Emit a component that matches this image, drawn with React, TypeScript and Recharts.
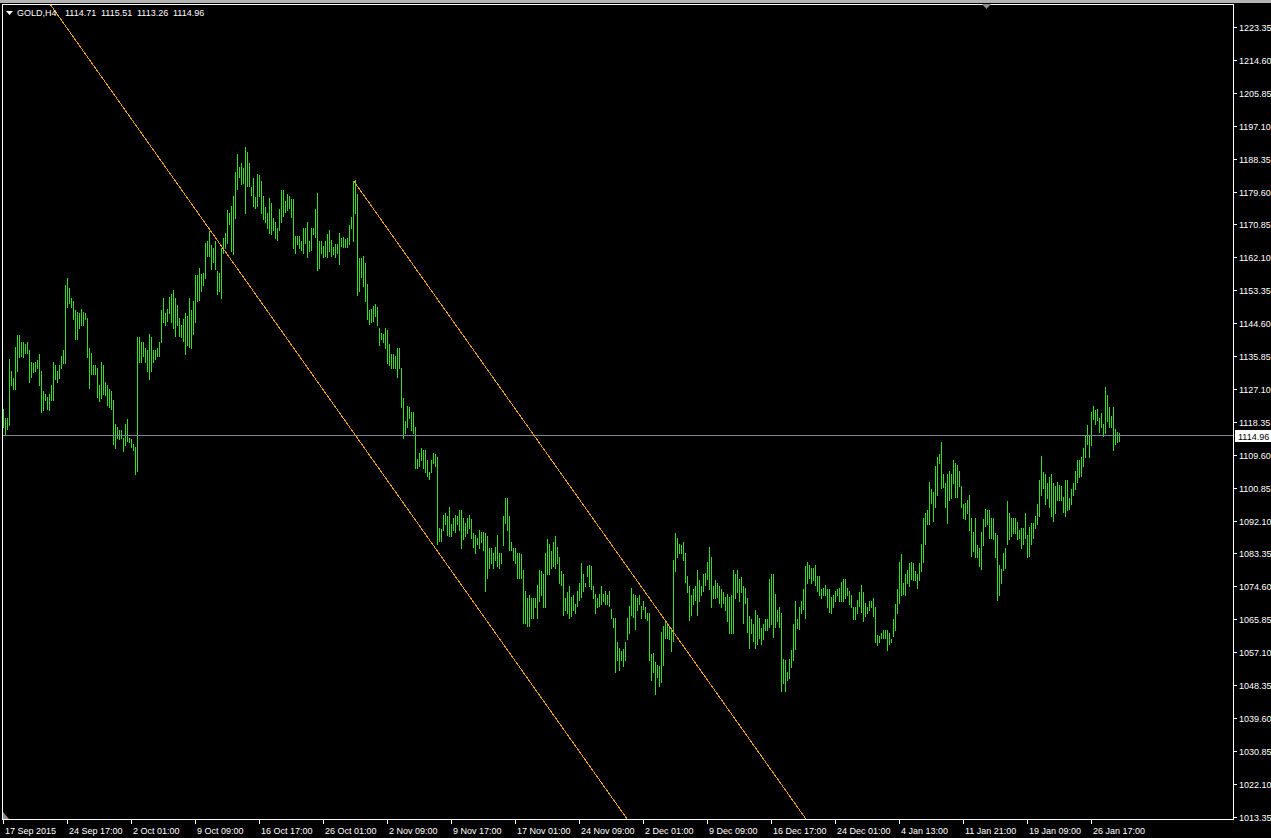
import { Bar, ComposedChart, ReferenceLine, XAxis, YAxis } from "recharts";

// GOLD H4 bars, one entry per bar, left to right
const highs = [
	1121.8, 1119.4, 1119.4, 1135.3, 1132.1, 1130.0, 1138.5, 1141.5, 1141.7, 1139.6,
	1139.8, 1139.3, 1139.8, 1137.7, 1134.3, 1134.0, 1134.5, 1134.8, 1136.4, 1132.1,
	1126.8, 1126.0, 1125.2, 1126.0, 1128.2, 1134.3, 1133.5, 1132.1, 1133.5, 1136.1,
	1137.5, 1155.0, 1156.6, 1154.2, 1151.3, 1150.7, 1148.1, 1147.8, 1147.5, 1148.6,
	1147.8, 1147.3, 1146.2, 1138.0, 1136.7, 1133.7, 1133.7, 1132.9, 1128.4, 1134.5,
	1133.5, 1129.0, 1128.2, 1127.3, 1126.8, 1124.2, 1117.8, 1117.0, 1116.2, 1116.2,
	1114.3, 1117.8, 1119.1, 1114.3, 1113.8, 1112.7, 1111.9, 1141.1, 1141.1, 1139.6,
	1139.6, 1138.2, 1137.5, 1141.9, 1141.1, 1137.7, 1137.5, 1138.0, 1139.8, 1148.3,
	1151.3, 1147.5, 1148.6, 1151.8, 1152.6, 1153.6, 1151.5, 1149.6, 1146.2, 1144.3,
	1145.9, 1147.3, 1146.5, 1151.3, 1148.1, 1150.5, 1157.6, 1157.6, 1159.5, 1157.9,
	1158.1, 1166.1, 1166.7, 1169.1, 1165.6, 1164.8, 1166.7, 1158.7, 1158.1, 1164.8,
	1167.5, 1168.8, 1174.7, 1174.1, 1176.0, 1178.6, 1184.8, 1189.8, 1186.3, 1187.2,
	1186.1, 1191.7, 1190.3, 1187.2, 1180.8, 1183.2, 1178.4, 1184.5, 1184.0, 1182.6,
	1178.6, 1175.7, 1173.9, 1178.1, 1176.8, 1172.8, 1171.5, 1170.1, 1175.2, 1180.2,
	1180.2, 1177.3, 1179.2, 1178.6, 1177.8, 1177.8, 1168.0, 1168.0, 1168.0, 1166.7,
	1169.9, 1169.9, 1171.5, 1166.7, 1169.9, 1170.1, 1175.2, 1179.4, 1166.7, 1166.7,
	1165.3, 1166.7, 1168.3, 1169.6, 1166.9, 1165.1, 1165.9, 1165.9, 1168.8, 1167.5,
	1167.7, 1167.2, 1167.5, 1170.9, 1173.0, 1182.6, 1182.9, 1179.2, 1162.1, 1162.1,
	1162.7, 1160.8, 1155.2, 1148.1, 1148.6, 1149.4, 1149.9, 1149.1, 1143.5, 1142.2,
	1141.9, 1143.3, 1143.0, 1139.3, 1136.4, 1136.4, 1136.1, 1138.2, 1138.2, 1132.9,
	1124.7, 1118.6, 1122.8, 1122.5, 1121.0, 1121.0, 1117.2, 1108.7, 1110.3, 1111.4,
	1110.9, 1110.9, 1108.4, 1105.2, 1108.4, 1110.3, 1110.0, 1109.2, 1090.3, 1090.0,
	1093.8, 1094.3, 1093.3, 1095.7, 1091.2, 1093.0, 1093.8, 1093.5, 1094.9, 1094.9,
	1093.0, 1091.7, 1093.0, 1093.8, 1092.7, 1088.8, 1088.5, 1087.7, 1089.6, 1089.3,
	1089.3, 1088.8, 1088.0, 1085.0, 1085.0, 1083.5, 1085.3, 1088.5, 1083.7, 1083.7,
	1093.5, 1098.1, 1098.1, 1093.5, 1086.6, 1085.0, 1085.0, 1083.7, 1083.5, 1083.2,
	1079.2, 1073.6, 1071.7, 1072.5, 1071.7, 1071.7, 1071.7, 1075.2, 1079.0, 1078.7,
	1077.9, 1083.5, 1087.4, 1086.1, 1084.0, 1086.4, 1088.0, 1085.3, 1082.4, 1078.7,
	1077.9, 1071.7, 1073.1, 1074.9, 1072.0, 1072.5, 1070.1, 1073.6, 1075.7, 1080.8,
	1077.9, 1075.5, 1080.2, 1080.5, 1080.2, 1074.9, 1072.8, 1071.5, 1072.8, 1074.7,
	1072.8, 1073.6, 1072.3, 1073.6, 1068.8, 1066.4, 1066.4, 1060.0, 1058.4, 1057.6,
	1058.1, 1060.0, 1066.4, 1069.6, 1074.4, 1072.8, 1072.5, 1071.7, 1072.3, 1069.6,
	1070.9, 1069.1, 1067.7, 1067.5, 1056.8, 1057.1, 1054.7, 1053.9, 1053.6, 1062.7,
	1064.3, 1065.3, 1064.8, 1064.0, 1063.7, 1081.6, 1088.8, 1087.7, 1086.1, 1085.8,
	1086.6, 1083.5, 1077.6, 1074.9, 1072.3, 1074.1, 1074.7, 1079.0, 1076.5, 1074.7,
	1078.1, 1078.4, 1081.3, 1085.3, 1082.4, 1074.9, 1076.3, 1075.7, 1074.9, 1074.1,
	1073.1, 1072.0, 1072.8, 1072.0, 1072.3, 1079.0, 1077.9, 1079.0, 1076.8, 1077.3,
	1074.7, 1074.4, 1071.7, 1066.9, 1066.1, 1064.8, 1068.5, 1067.2, 1066.4, 1063.7,
	1064.8, 1066.1, 1066.1, 1076.8, 1078.1, 1078.1, 1072.8, 1068.5, 1069.1, 1067.7,
	1055.5, 1055.2, 1052.0, 1055.5, 1057.9, 1064.8, 1070.9, 1066.1, 1069.3, 1070.7,
	1073.9, 1080.0, 1081.3, 1080.5, 1079.7, 1079.7, 1080.5, 1077.6, 1077.6, 1074.1,
	1074.4, 1075.2, 1074.1, 1074.1, 1072.0, 1072.5, 1073.6, 1074.1, 1074.4, 1076.0,
	1076.8, 1076.8, 1074.4, 1073.6, 1072.3, 1069.3, 1069.1, 1071.2, 1073.3, 1075.2,
	1073.1, 1070.4, 1069.3, 1070.9, 1070.7, 1071.7, 1069.3, 1061.9, 1061.4, 1062.4,
	1063.2, 1063.2, 1063.0, 1062.4, 1060.8, 1066.1, 1069.9, 1073.9, 1081.3, 1083.2,
	1075.5, 1077.9, 1079.0, 1081.0, 1081.3, 1081.0, 1078.7, 1078.1, 1080.8, 1086.1,
	1093.0, 1094.3, 1094.9, 1102.6, 1100.7, 1099.7, 1106.6, 1109.0, 1110.0, 1113.0,
	1104.5, 1102.1, 1104.5, 1105.5, 1104.7, 1108.4, 1107.6, 1107.1, 1105.5, 1101.5,
	1096.7, 1097.0, 1097.8, 1099.1, 1093.0, 1089.3, 1093.0, 1085.6, 1085.0, 1089.3,
	1092.7, 1095.4, 1095.1, 1094.9, 1093.0, 1093.0, 1088.8, 1088.5, 1080.5, 1079.4,
	1083.5, 1085.0, 1097.3, 1094.3, 1093.0, 1093.0, 1093.0, 1091.9, 1089.8, 1090.3,
	1090.3, 1094.3, 1088.5, 1090.6, 1091.7, 1091.7, 1093.5, 1096.7, 1102.9, 1109.5,
	1105.0, 1104.5, 1102.1, 1103.7, 1104.5, 1102.1, 1101.3, 1102.6, 1101.8, 1101.3,
	1098.6, 1102.9, 1102.9, 1098.1, 1100.7, 1102.1, 1105.5, 1108.2, 1108.4, 1109.0,
	1111.4, 1115.1, 1117.5, 1115.1, 1121.2, 1122.8, 1121.5, 1122.0, 1119.6, 1120.7,
	1118.0, 1127.8, 1125.7, 1122.5, 1119.9, 1122.3, 1116.7, 1115.9, 1115.51,
];

const lows = [
	1117.0, 1115.1, 1116.7, 1117.6, 1128.2, 1127.3, 1127.1, 1132.1, 1135.6, 1135.9,
	1135.6, 1136.7, 1136.7, 1129.2, 1130.3, 1131.6, 1132.1, 1132.7, 1128.2, 1121.0,
	1121.5, 1124.2, 1122.0, 1121.5, 1124.4, 1124.4, 1129.8, 1129.2, 1130.0, 1132.7,
	1134.0, 1134.0, 1148.9, 1150.2, 1148.9, 1145.9, 1140.4, 1140.4, 1143.5, 1144.3,
	1144.1, 1145.9, 1135.6, 1127.6, 1131.1, 1131.1, 1131.1, 1125.2, 1123.9, 1124.7,
	1126.0, 1125.5, 1122.9, 1122.3, 1121.8, 1112.7, 1111.4, 1114.1, 1113.8, 1114.1,
	1110.6, 1112.2, 1113.5, 1113.0, 1111.7, 1110.9, 1104.7, 1105.5, 1134.5, 1134.3,
	1136.1, 1134.3, 1131.9, 1129.8, 1132.1, 1134.5, 1135.3, 1135.9, 1135.9, 1139.8,
	1144.9, 1144.3, 1145.4, 1147.5, 1145.1, 1143.5, 1141.4, 1144.1, 1141.4, 1141.1,
	1140.1, 1136.4, 1138.8, 1138.5, 1138.2, 1141.9, 1145.1, 1150.5, 1151.0, 1153.4,
	1155.0, 1156.6, 1162.7, 1162.7, 1159.2, 1161.1, 1159.2, 1152.6, 1153.4, 1151.5,
	1163.5, 1164.8, 1166.1, 1171.2, 1164.0, 1163.2, 1172.8, 1180.5, 1183.7, 1181.6,
	1182.1, 1173.9, 1181.3, 1181.3, 1178.9, 1176.0, 1175.4, 1176.0, 1178.6, 1173.9,
	1172.5, 1171.5, 1169.9, 1168.8, 1168.3, 1169.4, 1167.5, 1166.9, 1169.4, 1171.5,
	1173.3, 1174.4, 1174.9, 1175.4, 1173.0, 1164.8, 1163.5, 1165.9, 1164.8, 1164.3,
	1163.5, 1166.1, 1162.2, 1164.0, 1164.3, 1168.5, 1167.7, 1158.9, 1159.5, 1163.5,
	1162.2, 1162.7, 1162.2, 1164.0, 1162.7, 1163.2, 1162.2, 1163.5, 1160.5, 1165.3,
	1165.1, 1165.1, 1165.1, 1165.9, 1169.9, 1166.7, 1174.1, 1152.1, 1153.4, 1156.9,
	1154.7, 1150.5, 1145.9, 1144.6, 1145.1, 1145.4, 1146.5, 1144.1, 1138.8, 1140.4,
	1139.6, 1138.2, 1134.0, 1133.5, 1132.9, 1132.7, 1132.7, 1130.3, 1132.7, 1122.3,
	1114.3, 1115.4, 1117.0, 1119.6, 1116.2, 1115.4, 1106.3, 1106.3, 1106.8, 1108.4,
	1106.3, 1105.2, 1104.2, 1103.4, 1105.0, 1107.4, 1106.8, 1086.1, 1086.9, 1086.9,
	1089.6, 1091.2, 1088.5, 1088.2, 1088.0, 1089.8, 1089.3, 1091.4, 1089.6, 1085.0,
	1087.2, 1088.0, 1088.8, 1090.3, 1087.7, 1085.3, 1083.7, 1086.1, 1085.0, 1086.4,
	1084.3, 1073.6, 1077.0, 1079.7, 1081.0, 1079.7, 1081.6, 1080.2, 1079.7, 1080.8,
	1085.6, 1091.7, 1089.6, 1084.5, 1084.3, 1081.6, 1080.8, 1077.0, 1077.0, 1077.0,
	1065.1, 1065.1, 1064.3, 1064.3, 1066.4, 1066.4, 1069.1, 1066.4, 1070.7, 1072.3,
	1069.1, 1069.1, 1077.9, 1078.1, 1079.7, 1080.0, 1079.7, 1080.8, 1075.5, 1075.2,
	1067.2, 1068.3, 1067.5, 1066.4, 1066.9, 1068.3, 1067.5, 1069.6, 1071.0, 1072.0,
	1073.6, 1074.7, 1077.6, 1074.9, 1074.1, 1071.7, 1067.5, 1069.3, 1069.6, 1070.1,
	1070.7, 1070.1, 1070.1, 1069.6, 1066.4, 1063.8, 1052.0, 1055.2, 1052.6, 1055.2,
	1053.6, 1055.2, 1060.6, 1062.4, 1067.2, 1066.7, 1063.5, 1068.3, 1070.1, 1066.4,
	1068.8, 1066.4, 1065.9, 1055.2, 1049.9, 1052.0, 1046.2, 1050.7, 1048.3, 1049.4,
	1053.9, 1061.1, 1061.1, 1060.8, 1057.6, 1060.3, 1078.7, 1082.4, 1083.5, 1083.7,
	1081.8, 1076.0, 1073.3, 1065.9, 1067.2, 1070.1, 1071.2, 1067.2, 1070.9, 1072.5,
	1073.6, 1075.2, 1076.8, 1074.1, 1069.1, 1071.7, 1071.7, 1072.0, 1070.4, 1069.1,
	1070.4, 1068.3, 1065.6, 1062.2, 1062.2, 1062.2, 1071.7, 1073.3, 1070.7, 1073.1,
	1065.1, 1070.4, 1062.7, 1058.4, 1062.4, 1060.3, 1058.4, 1059.5, 1061.1, 1059.5,
	1060.6, 1063.0, 1063.2, 1064.0, 1064.8, 1061.3, 1064.0, 1065.6, 1064.0, 1047.0,
	1049.1, 1047.0, 1049.9, 1050.4, 1053.4, 1055.0, 1058.1, 1063.7, 1063.5, 1067.7,
	1068.8, 1066.4, 1075.7, 1077.0, 1075.7, 1076.5, 1075.2, 1073.6, 1072.3, 1071.5,
	1072.3, 1072.5, 1069.3, 1068.0, 1067.7, 1069.3, 1070.9, 1072.5, 1070.7, 1070.7,
	1070.9, 1071.7, 1072.5, 1070.1, 1069.3, 1066.1, 1066.1, 1067.5, 1069.6, 1068.0,
	1065.6, 1066.9, 1067.7, 1068.3, 1069.1, 1066.9, 1059.8, 1059.0, 1059.8, 1061.1,
	1061.1, 1061.1, 1057.9, 1059.5, 1060.0, 1061.6, 1063.0, 1067.7, 1070.4, 1072.3,
	1072.8, 1072.5, 1075.7, 1074.9, 1076.8, 1076.3, 1076.3, 1074.4, 1076.3, 1078.7,
	1081.3, 1086.1, 1091.2, 1091.2, 1097.0, 1092.0, 1095.7, 1098.9, 1107.6, 1101.0,
	1101.2, 1095.7, 1091.7, 1097.8, 1098.1, 1102.1, 1098.6, 1098.6, 1101.5, 1095.7,
	1093.0, 1092.7, 1094.1, 1089.6, 1082.9, 1084.0, 1082.4, 1082.6, 1080.2, 1079.4,
	1085.6, 1090.9, 1091.4, 1087.7, 1087.7, 1087.4, 1082.4, 1071.0, 1072.3, 1075.7,
	1079.0, 1079.7, 1086.1, 1087.4, 1088.2, 1088.8, 1088.8, 1087.4, 1087.7, 1085.0,
	1086.1, 1087.7, 1082.4, 1082.9, 1086.1, 1087.7, 1090.3, 1091.4, 1093.5, 1099.1,
	1101.0, 1096.7, 1098.3, 1095.7, 1093.3, 1092.0, 1094.3, 1097.6, 1097.8, 1097.8,
	1094.6, 1093.5, 1094.9, 1095.4, 1096.5, 1099.1, 1100.7, 1102.6, 1103.7, 1104.2,
	1106.8, 1109.2, 1112.7, 1109.2, 1112.4, 1119.1, 1118.0, 1118.9, 1115.9, 1117.0,
	1114.8, 1115.4, 1118.6, 1117.0, 1117.0, 1110.9, 1112.7, 1113.0, 1113.26,
];

const dateTickBars = [0, 32, 64, 96, 128, 160, 192, 224, 256, 288, 320, 352, 384, 416, 448, 480, 512, 544];
const dateLabels = [
	"17 Sep 2015", "24 Sep 17:00", "2 Oct 01:00", "9 Oct 09:00", "16 Oct 17:00", "26 Oct 01:00",
	"2 Nov 09:00", "9 Nov 17:00", "17 Nov 01:00", "24 Nov 09:00", "2 Dec 01:00", "9 Dec 09:00",
	"16 Dec 17:00", "24 Dec 01:00", "4 Jan 13:00", "11 Jan 21:00", "19 Jan 09:00", "26 Jan 17:00",
];
const priceTicks = [
	1013.35, 1022.1, 1030.85, 1039.6, 1048.35, 1057.1, 1065.85, 1074.6, 1083.35, 1092.1,
	1100.85, 1109.6, 1118.35, 1127.1, 1135.85, 1144.6, 1153.35, 1162.1, 1170.85, 1179.6,
	1188.35, 1197.1, 1205.85, 1214.6, 1223.35,
];
const headerTexts = ["GOLD,H4", "1114.71", "1115.51", "1113.26", "1114.96"];
const bidPrice = 1114.96;
// channel anchors: bar index / price
const lowerChannel = [
	{ x: 23.6, y: 1229.33 },
	{ x: 311.8, y: 1012.85 },
];
const upperChannel = [
	{ x: 175, y: 1182.6 },
	{ x: 401.2, y: 1012.85 },
];

const data = highs.map((h, i) => ({ i, range: [lows[i], h] }));

const BAR_COLOR = "#33dd22";
const CHANNEL_COLOR = "#e8a020";
const BID_COLOR = "#778899";
const FONT = "'Liberation Sans', Arial, sans-serif";

function Stick(props: any) {
	const { x, y, width, height } = props;
	const cx = Math.floor(x + width / 2);
	const top = Math.round(y);
	const h = Math.max(1, Math.round(y + height) - top + 1);
	return <rect x={cx} y={top} width={1} height={h} fill={BAR_COLOR} shapeRendering="crispEdges" />;
}

function PriceTick(props: any) {
	const { x, y, payload } = props;
	const yy = Math.floor(y) + 0.5;
	return (
		<g>
			<line x1={x} x2={x + 3.5} y1={yy} y2={yy} stroke="#fff" shapeRendering="crispEdges" />
			<text x={x + 5.5} y={yy + 3.5} fill="#fff" fontSize={9} fontFamily={FONT}>
				{payload.value.toFixed(2)}
			</text>
		</g>
	);
}

function DateTick(props: any) {
	const { x, y, index } = props;
	const xx = Math.floor(x) + 0.5;
	return (
		<g>
			<line x1={xx} x2={xx} y1={y} y2={y + 4} stroke="#fff" shapeRendering="crispEdges" />
			<text x={xx + 1.5} y={y + 14} fill="#fff" fontSize={9} fontFamily={FONT}>
				{dateLabels[index]}
			</text>
		</g>
	);
}

function BidLabel(props: any) {
	const vb = props.viewBox || {};
	const yy = Math.floor(vb.y);
	const left = vb.x + vb.width + 1.5;
	return (
		<g>
			<rect x={left} y={yy - 5} width={37} height={12} fill="#fff" shapeRendering="crispEdges" />
			<text x={left + 3} y={yy + 4.5} fill="#000" fontSize={9} fontFamily={FONT}>
				{bidPrice.toFixed(2)}
			</text>
		</g>
	);
}

export default function App() {
	const headerX = [17, 65, 101, 137, 173];
	return (
		<div style={{ position: "absolute", left: 0, top: 0, width: 1271, height: 838, background: "#000", overflow: "hidden" }}>
			<div style={{ position: "absolute", left: 0, top: 0, width: 1271, height: 3, background: "#b4b4b4" }} />
			<ComposedChart
				width={1271}
				height={838}
				data={data}
				margin={{ top: 4.5, left: 2.5, right: 0, bottom: 0 }}
				style={{ position: "absolute", left: 0, top: 0 }}
			>
				<XAxis
					dataKey="i"
					type="number"
					domain={[-0.5, 615]}
					allowDataOverflow
					ticks={dateTickBars}
					interval={0}
					height={18.5}
					axisLine={false}
					tickLine={false}
					tickSize={0}
					tickMargin={0}
					tick={<DateTick />}
				/>
				<YAxis
					orientation="right"
					type="number"
					domain={[1012.71, 1229.47]}
					allowDataOverflow
					ticks={priceTicks}
					interval={0}
					width={37.5}
					axisLine={false}
					tickLine={false}
					tickSize={0}
					tickMargin={0}
					tick={<PriceTick />}
				/>
				<Bar dataKey="range" shape={<Stick />} isAnimationActive={false} />
				<ReferenceLine y={bidPrice} stroke={BID_COLOR} shapeRendering="crispEdges" label={<BidLabel />} />
				<ReferenceLine segment={lowerChannel} stroke={CHANNEL_COLOR} shapeRendering="crispEdges" />
				<ReferenceLine segment={upperChannel} stroke={CHANNEL_COLOR} shapeRendering="crispEdges" />
			</ComposedChart>
			<div
				style={{
					position: "absolute",
					left: 2,
					top: 4,
					width: 1232,
					height: 816,
					border: "1px solid #fff",
					boxSizing: "border-box",
					pointerEvents: "none",
				}}
			/>
			<svg width={1271} height={838} style={{ position: "absolute", left: 0, top: 0, pointerEvents: "none" }}>
				<polygon points="6,11 13,11 9.5,15" fill="#fff" />
				{headerTexts.map((t, k) => (
					<text key={t + k} x={headerX[k]} y={16} fill="#fff" fontSize={9} fontFamily={FONT}>
						{t}
					</text>
				))}
				<polygon points="982,4 991,4 986.5,9" fill="#8c8c8c" />
				<polygon points="3,812 3,819 9,819" fill="#8c8c8c" />
			</svg>
		</div>
	);
}
